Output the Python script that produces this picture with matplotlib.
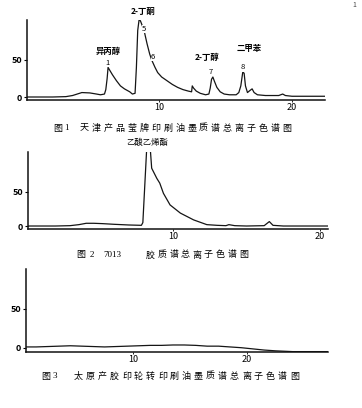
import matplotlib
matplotlib.use("Agg")
import matplotlib.pyplot as plt

plt.rcParams['font.family'] = ['Noto Sans CJK SC', 'DejaVu Sans']

W, H = 362, 408

# ---------------- data ----------------
# Figure 1: Tianjin ink TIC
t1 = [0.1, 1.0, 2.0, 3.0, 3.5, 4.2, 4.8, 5.3, 5.6, 5.9, 6.0, 6.1, 6.17, 6.3, 6.5, 6.8, 7.1, 7.4,
      7.8, 8.0, 8.2, 8.3, 8.4, 8.5, 8.6, 8.75, 8.9, 9.1, 9.3, 9.45, 9.7, 9.9, 10.2, 10.6, 11.0,
      11.4, 11.8, 12.2, 12.45, 12.5, 12.6, 12.8, 13.1, 13.5, 13.75, 13.85, 13.95, 14.05, 14.15,
      14.35, 14.6, 14.9, 15.3, 15.8, 16.0, 16.15, 16.3, 16.4, 16.5, 16.65, 16.85, 17.0, 17.15,
      17.4, 18.0, 18.5, 19.0, 19.3, 19.5, 20.0, 21.0, 22.5]
i1 = [0, 0, 0, 0.5, 2, 6, 5.5, 4, 3, 4, 10, 25, 40, 36, 30, 22, 15, 11,
      7, 4, 5, 40, 90, 104, 103, 96, 88, 72, 58, 50, 40, 33, 27, 22, 17,
      13, 10, 8, 7, 15, 12, 8, 5, 3, 4, 12, 24, 27, 22,
      13, 7, 4, 3, 3, 6, 15, 34, 32, 15, 6, 9, 11, 6,
      3, 2, 2, 2, 4, 2, 1, 1, 1]

# Figure 2: 7013 glue TIC
t2 = [0.14, 1.0, 2.0, 3.0, 3.6, 4.1, 4.6, 5.2, 6.0, 7.0, 7.85, 7.95, 8.25, 8.4, 8.55, 8.9, 9.1,
      9.35, 9.8, 10.5, 11.4, 12.3, 13.0, 13.6, 13.8, 14.2, 15.0, 16.2, 16.55, 16.8, 17.5, 19.0, 20.5]
i2 = [0, 0, 0, 0.5, 2, 4, 4, 3.5, 2.5, 1.5, 1, 5, 130, 130, 85, 70, 63,
      48, 31, 19, 9, 2, 1, 0.5, 2, 0.5, 0, 0.5, 6.5, 1, 0, 0, 0]

# Figure 3: Taiyuan offset ink TIC
t3 = [0.61, 1.5, 2.5, 3.5, 4.5, 5.5, 6.5, 7.5, 8.5, 9.5, 10.5, 11.5, 12.5, 13.5, 14.5, 15.5,
      16.5, 17.5, 18.5, 19.5, 20.5, 21.5, 22.5, 24.0, 27.1]
i3 = [1, 1, 1.5, 2, 2.5, 2, 1.5, 1, 1.5, 2, 2.5, 3, 3, 3.5, 3.5, 3,
      2, 2, 1, 0, -1.5, -3, -4, -5, -5]

yticks = [0, 50]
xticks = [10, 20]
captions = ["天津产品莹牌印刷油墨质谱总离子色谱图", "胶质谱总离子色谱图",
            "太原产胶印轮转印刷油墨质谱总离子色谱图"]

peak_names1 = ["2-丁酮", "异丙醇", "2-丁醇", "二甲苯"]
peak_name_pos1 = [(8.8, 116), (6.17, 61), (13.6, 53), (16.8, 66)]
peak_nums1 = ["1", "5", "6", "7", "8"]
peak_num_pos1 = [(6.15, 46), (8.9, 92), (9.55, 54), (13.9, 34), (16.3, 40)]

# ---------------- drawing ----------------
fig = plt.figure(figsize=(W / 100, H / 100), dpi=100)


def make_ax(l, r, t, b, xlim, ylim):
    ax = fig.add_axes([l / W, 1 - b / H, (r - l) / W, (b - t) / H])
    ax.set_xlim(*xlim)
    ax.set_ylim(*ylim)
    for s in ("top", "right"):
        ax.spines[s].set_visible(False)
    for s in ("left", "bottom"):
        ax.spines[s].set_linewidth(1.1)
        ax.spines[s].set_color("#111111")
    ax.set_yticks(yticks)
    ax.set_yticklabels([str(v) for v in yticks], fontsize=6.5, fontweight="bold")
    ax.set_xticks(xticks)
    ax.set_xticklabels([str(v) for v in xticks], fontsize=6.5)
    ax.tick_params(axis="y", length=2.5, width=0.8, pad=1)
    ax.tick_params(axis="x", length=1.5, width=0.6, pad=1)
    ax.patch.set_alpha(0)
    return ax


ax1 = make_ax(27, 325, 20, 100, (0.075, 22.48), (-4.05, 104))
ax1.plot(t1, i1, color="#151515", lw=0.9)
for s, (x, y) in zip(peak_names1, peak_name_pos1):
    ax1.text(x, y, s, fontsize=6, fontweight="bold", ha="center", va="center", clip_on=False)
for s, (x, y) in zip(peak_nums1, peak_num_pos1):
    ax1.text(x, y, s, fontsize=5.5, ha="center", va="center", clip_on=False,
             bbox=dict(boxstyle="square,pad=0.05", fc="white", ec="none"))

ax2 = make_ax(28, 328, 152, 229, (0.14, 20.54), (-4.4, 108.8))
ax2.plot(t2, i2, color="#151515", lw=0.9)
ax2.text(8.23, 123.5, "乙酸乙烯酯", fontsize=6, ha="center", va="center", clip_on=False,
         style="italic")

ax3 = make_ax(26, 328, 269, 352, (0.61, 27.1), (-5.5, 101))
ax3.plot(t3, i3, color="#151515", lw=0.9)


def spaced(x0, y, s, step, fs=6.5):
    for k, ch in enumerate(s):
        fig.text((x0 + k * step) / W, 1 - y / H, ch, fontsize=fs, ha="left", va="center")


def serif(x, y, s, fs=6.5):
    fig.text(x / W, 1 - y / H, s, fontsize=fs, ha="left", va="center",
             family=["Liberation Serif", "Noto Sans CJK SC"])


# Captions
spaced(53, 128, "图", 12)
serif(64, 128, "1")
spaced(80, 128, captions[0], 11.9)

spaced(76, 255, "图", 12)
serif(90, 255, "2")
serif(103, 255, "7013")
spaced(146, 255, captions[1], 11.6)

spaced(41, 376, "图", 12)
serif(53, 376, "3")
spaced(74, 376, captions[2], 12.0)

fig.text(352 / W, 1 - 5 / H, "1", fontsize=5, color="#444444", ha="left", va="center")

fig.savefig("out.png", dpi=100)
